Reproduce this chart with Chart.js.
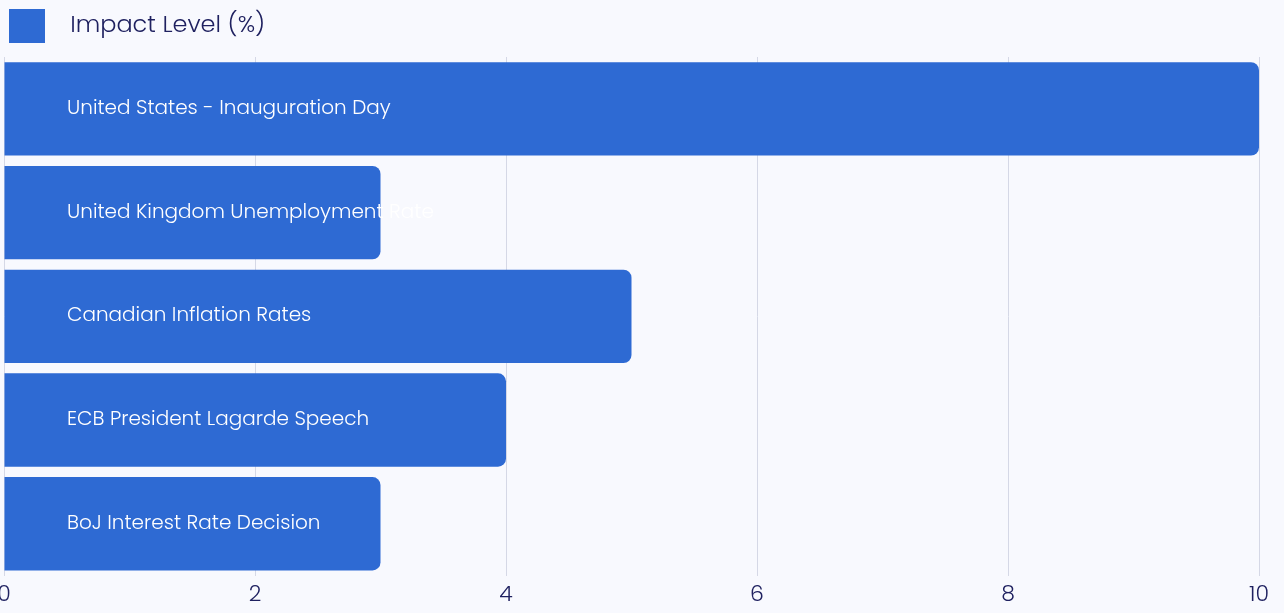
<!DOCTYPE html>
<html>
<head>
<meta charset="utf-8">
<script src="https://cdn.jsdelivr.net/npm/chart.js@4.4.1/dist/chart.umd.min.js"></script>
<style>
  html, body { margin: 0; padding: 0; background: #f8f9fe; }
  #wrap { width: 1284px; height: 613px; }
</style>
</head>
<body>
<div id="wrap"><canvas id="myChart"></canvas></div>
<script>
// Data
const eventLabels = [
  "United States - Inauguration Day",
  "United Kingdom Unemployment Rate",
  "Canadian Inflation Rates",
  "ECB President Lagarde Speech",
  "BoJ Interest Rate Decision"
];
const impactValues = [10, 3, 5, 4, 3];
const xTicks = [0, 2, 4, 6, 8, 10];
const seriesName = "Impact Level (%)";

const barColor = "#2e6ad3";
const textColor = "#1f2160";
const fontFamily = "Poppins, 'Open Sans', sans-serif";

// a bit more room under the legend
const legendGap = {
  id: "legendGap",
  beforeInit(chart) {
    const fit = chart.legend.fit;
    chart.legend.fit = function () {
      fit.call(this);
      this.height += 4;
    };
  }
};

new Chart("myChart", {
  type: "bar",
  data: {
    labels: eventLabels,
    datasets: [{
      label: seriesName,
      data: impactValues,
      backgroundColor: barColor,
      borderRadius: 8,
      borderSkipped: "start",
      barPercentage: 0.9,
      categoryPercentage: 1.0
    }]
  },
  plugins: [legendGap],
  options: {
    indexAxis: "y",
    responsive: true,
    maintainAspectRatio: false,
    animation: false,
    layout: { padding: { left: 0, right: 25, top: 0, bottom: -3 } },
    plugins: {
      legend: {
        align: "start",
        labels: {
          color: textColor,
          font: { family: fontFamily, size: 24, weight: 300 },
          boxWidth: 36,
          boxHeight: 34,
          padding: 9,
          generateLabels: chart => {
            const items = Chart.defaults.plugins.legend.labels.generateLabels(chart);
            // extra gap between the swatch and the text
            items.forEach(it => { it.text = "  " + it.text; it.lineWidth = 0; });
            return items;
          }
        }
      },
      tooltip: { enabled: false }
    },
    scales: {
      x: {
        min: xTicks[0],
        max: xTicks[xTicks.length - 1],
        afterBuildTicks: axis => { axis.ticks = xTicks.map(v => ({ value: v })); },
        afterFit: axis => { axis.paddingLeft = 0; },
        grid: { color: "#d5d8e6", drawTicks: false },
        border: { display: false },
        ticks: {
          color: textColor,
          font: { family: fontFamily, size: 22, weight: 300 },
          padding: 7
        }
      },
      y: {
        afterFit: axis => {
          axis.width = 4;
          axis.paddingTop = 0;
          axis.paddingBottom = 0;
        },
        grid: { display: false, drawTicks: false },
        border: { display: false },
        ticks: {
          mirror: true,
          z: 1,
          padding: 63,
          color: "#ffffff",
          font: { family: fontFamily, size: 20, weight: 300 }
        }
      }
    }
  }
});
</script>
</body>
</html>
